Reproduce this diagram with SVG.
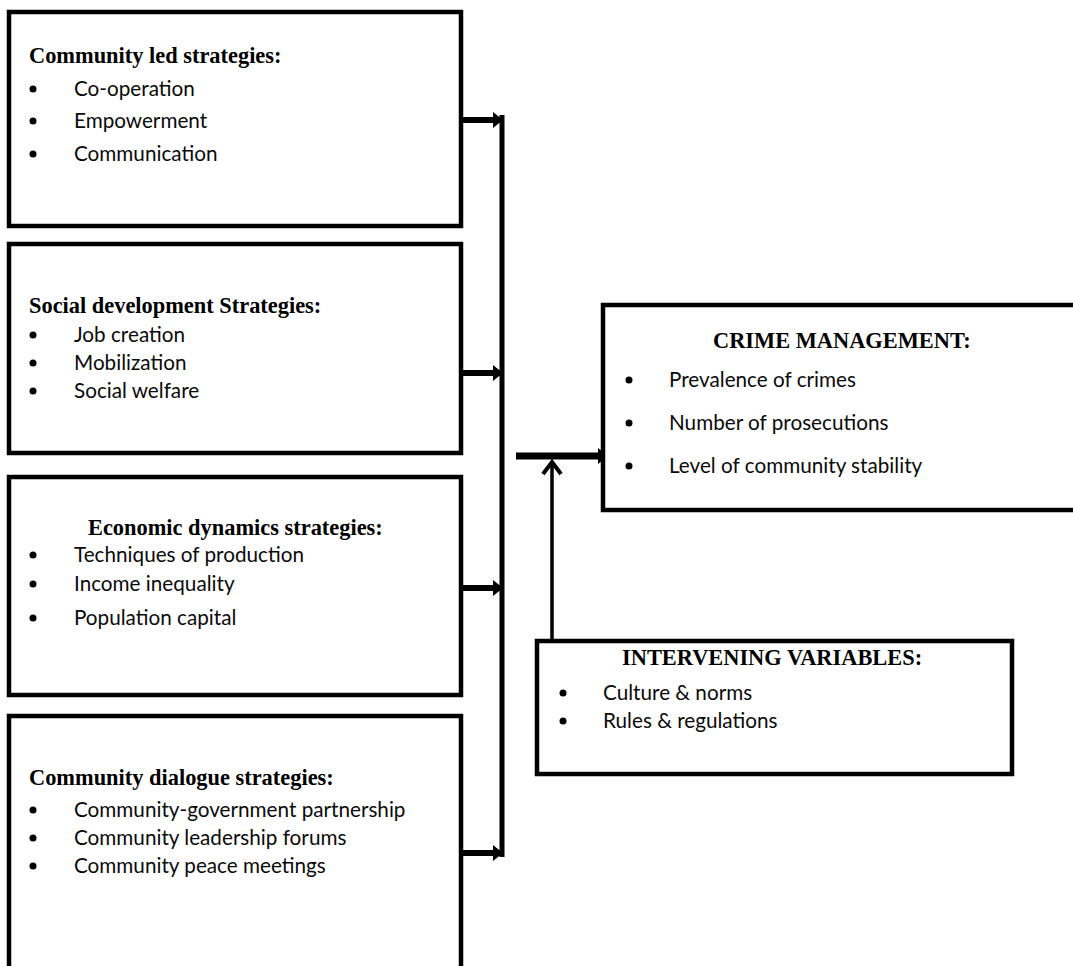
<svg xmlns="http://www.w3.org/2000/svg" width="1073" height="966" viewBox="0 0 1073 966">
<style>
.box{fill:#fff;stroke:#000;stroke-width:4.5}
.h{font-family:"Liberation Serif","Times New Roman",serif;font-weight:bold;font-size:22.4px;fill:#000}
.t{font-family:Lato,"Liberation Sans",sans-serif;font-size:20.7px;fill:#0a0a0a}
.c{stroke:#000;fill:none}
</style>
<defs>
<marker id="ah" markerWidth="10" markerHeight="16" refX="9" refY="8" orient="auto" markerUnits="userSpaceOnUse"><path d="M0,0 L10,8 L0,16 Z" fill="#000"/></marker>
</defs>
<rect width="1073" height="966" fill="#fff"/>
<g id="connectors">
<line class="c" x1="502" y1="115" x2="502" y2="857" stroke-width="5"/>
<line class="c" x1="463" y1="120" x2="502" y2="120" stroke-width="6" marker-end="url(#ah)"/>
<line class="c" x1="463" y1="373" x2="502" y2="373" stroke-width="6" marker-end="url(#ah)"/>
<line class="c" x1="463" y1="588" x2="502" y2="588" stroke-width="6" marker-end="url(#ah)"/>
<line class="c" x1="463" y1="853" x2="502" y2="853" stroke-width="6" marker-end="url(#ah)"/>
<line class="c" x1="516" y1="456" x2="607" y2="456" stroke-width="7" marker-end="url(#ah)"/>
<line class="c" x1="552" y1="641" x2="552" y2="462" stroke-width="3.5"/>
<polyline class="c" points="543,474 552,462 561,474" stroke-width="4"/>
</g>
<g id="node-community-led">
<rect class="box" x="9" y="12" width="452" height="214"/>
<text class="h" x="29" y="63">Community led strategies:</text>
<circle cx="33" cy="89" r="3.5"/><text class="t" x="74" y="96">Co-operation</text>
<circle cx="33" cy="121" r="3.5"/><text class="t" x="74" y="128">Empowerment</text>
<circle cx="33" cy="154" r="3.5"/><text class="t" x="74" y="161">Communication</text>
</g>
<g id="node-social">
<rect class="box" x="9" y="244" width="452" height="209"/>
<text class="h" x="29" y="313">Social development Strategies:</text>
<circle cx="33" cy="335" r="3.5"/><text class="t" x="74" y="342">Job creation</text>
<circle cx="33" cy="363" r="3.5"/><text class="t" x="74" y="370">Mobilization</text>
<circle cx="33" cy="391" r="3.5"/><text class="t" x="74" y="398">Social welfare</text>
</g>
<g id="node-economic">
<rect class="box" x="9" y="477" width="452" height="218"/>
<text class="h" x="88" y="535">Economic dynamics strategies:</text>
<circle cx="33" cy="555" r="3.5"/><text class="t" x="74" y="562">Techniques of production</text>
<circle cx="33" cy="584" r="3.5"/><text class="t" x="74" y="591">Income inequality</text>
<circle cx="33" cy="618" r="3.5"/><text class="t" x="74" y="625">Population capital</text>
</g>
<g id="node-dialogue">
<rect class="box" x="9" y="716" width="452" height="300"/>
<text class="h" x="29" y="785">Community dialogue strategies:</text>
<circle cx="33" cy="810" r="3.5"/><text class="t" x="74" y="817">Community-government partnership</text>
<circle cx="33" cy="838" r="3.5"/><text class="t" x="74" y="845">Community leadership forums</text>
<circle cx="33" cy="866" r="3.5"/><text class="t" x="74" y="873">Community peace meetings</text>
</g>
<g id="node-crime">
<rect class="box" x="603" y="305" width="500" height="205"/>
<text class="h" x="713" y="348">CRIME MANAGEMENT:</text>
<circle cx="629" cy="380" r="3.5"/><text class="t" x="669" y="387">Prevalence of crimes</text>
<circle cx="629" cy="423" r="3.5"/><text class="t" x="669" y="430">Number of prosecutions</text>
<circle cx="629" cy="466" r="3.5"/><text class="t" x="669" y="473">Level of community stability</text>
</g>
<g id="node-intervening">
<rect class="box" x="537" y="641" width="475" height="133"/>
<text class="h" x="622" y="665">INTERVENING VARIABLES:</text>
<circle cx="563" cy="693" r="3.5"/><text class="t" x="603" y="700">Culture &amp; norms</text>
<circle cx="563" cy="721" r="3.5"/><text class="t" x="603" y="728">Rules &amp; regulations</text>
</g>
</svg>
